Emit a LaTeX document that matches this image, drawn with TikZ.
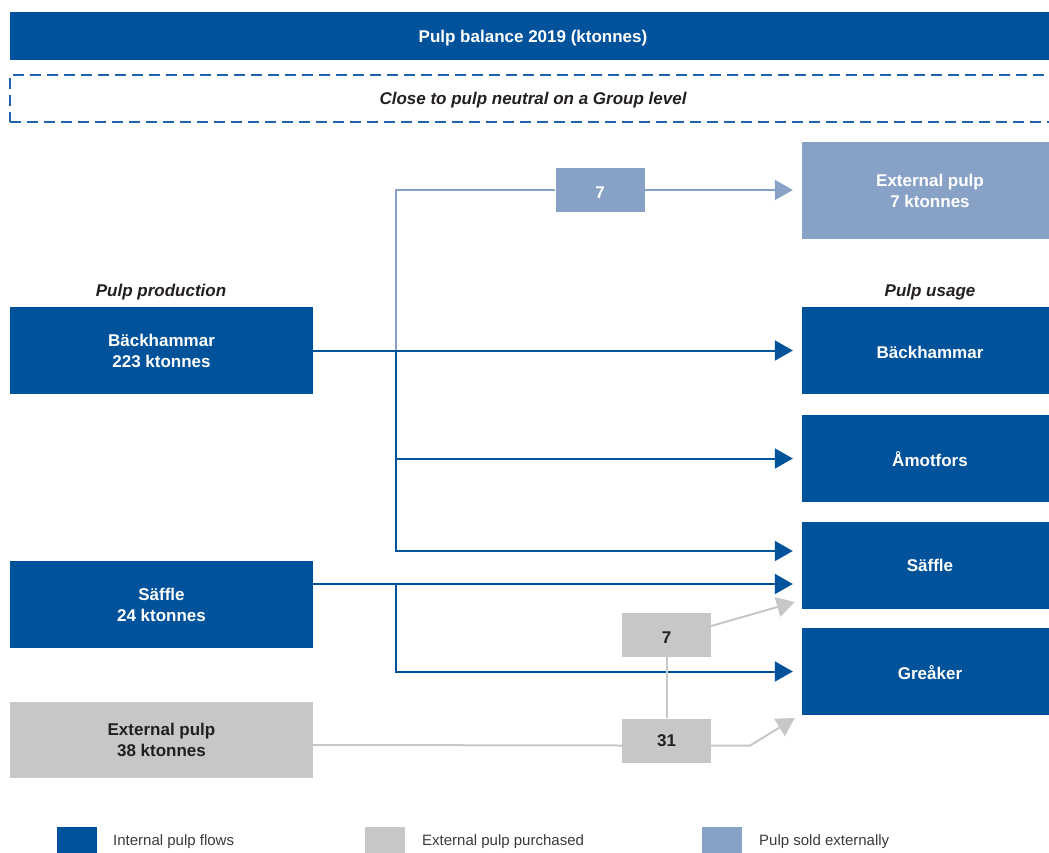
\documentclass[tikz,border=0pt]{standalone}
\usepackage{fontspec}
\setmainfont{Liberation Sans}
\usetikzlibrary{arrows.meta}
\definecolor{pblue}{HTML}{00529B}
\definecolor{plight}{HTML}{87A2C6}
\definecolor{pgray}{HTML}{C6C7C9}
\definecolor{ptext}{HTML}{231F20}
\definecolor{pdash}{HTML}{1F62AE}
\definecolor{plegend}{HTML}{3A3A3A}
\begin{document}
\begin{tikzpicture}[x=1pt,y=-1pt,
  box/.style={rectangle, inner sep=0pt, align=center, font=\fontsize{17}{21}\selectfont\bfseries},
  oneline/.style={execute at begin node={\rule{0pt}{16.5pt}}},
  bluebox/.style={box, fill=pblue, text=white},
  lightbox/.style={box, fill=plight, text=white},
  graybox/.style={box, fill=pgray, text=ptext},
  leftbox/.style={minimum width=303pt, minimum height=87pt},
  rightbox/.style={minimum width=256pt, minimum height=87pt},
  smallbox/.style={minimum width=89pt, minimum height=44pt},
  heading/.style={font=\fontsize{17}{21}\selectfont\bfseries\itshape, text=ptext, inner sep=0pt},
  flow/.style={line width=2pt},
  blueflow/.style={flow, draw=pblue},
  lightflow/.style={flow, draw=plight},
  grayflow/.style={flow, draw=pgray},
  tip/.style={-{Triangle[length=18pt,width=20pt]}},
  legsq/.style={rectangle, minimum width=40pt, minimum height=40pt, inner sep=0pt},
  legtext/.style={anchor=west, inner sep=0pt, text=plegend, font=\fontsize{15}{18}\selectfont}
]
\useasboundingbox (0,0) rectangle (1049,853);

% title and note
\node[bluebox, oneline, minimum width=1046pt, minimum height=48pt] (title) at (533,36) {Pulp balance 2019 (ktonnes)};
\node[draw=pdash, line width=1.6pt, dash pattern=on 11pt off 6pt, minimum width=1046pt, minimum height=47pt,
      font=\fontsize{17}{21}\selectfont\bfseries\itshape, text=ptext, inner sep=0pt, oneline] (note) at (533,98.5)
      {Close to pulp neutral on a Group level};

% headings
\node[heading, oneline] (hprod) at (161,290) {Pulp production};
\node[heading, oneline] (huse) at (930,290) {Pulp usage};

% left boxes
\node[bluebox, leftbox] (bL) at (161.5,350.5) {Bäckhammar\\223 ktonnes};
\node[bluebox, leftbox] (sL) at (161.5,604.5) {Säffle\\24 ktonnes};
\node[graybox, minimum width=303pt, minimum height=76pt] (eL) at (161.5,740) {External pulp\\38 ktonnes};

% right boxes
\node[lightbox, minimum width=256pt, minimum height=97pt] (eR) at (930,190.5) {External pulp\\7 ktonnes};
\node[bluebox, rightbox, oneline] (bR) at (930,350.5) {Bäckhammar};
\node[bluebox, rightbox, oneline] (aR) at (930,458.5) {Åmotfors};
\node[bluebox, rightbox] (sR) at (930,565.5) {Säffle};
\node[bluebox, rightbox, oneline] (gR) at (930,671.5) {Greåker};

% small boxes
\node[lightbox, smallbox, oneline] (l7) at (600,190) {7};
\node[graybox, smallbox, oneline] (g7) at (666.5,635) {7};
\node[graybox, smallbox] (g31) at (666.5,740.5) {31};

% junctions
\coordinate (j1) at (396,350.5);
\coordinate (j2) at (396,584);

% light blue flow (sold externally)
\draw[lightflow] (j1) -- (j1 |- l7.west) -- (l7.west);
\draw[lightflow, tip] (l7.east) -- ([xshift=-9pt]eR.west |- l7.east);

% internal flows
\draw[blueflow, tip] (bL.east) -- ([xshift=-9pt]bR.west);
\draw[blueflow, tip] (j1) |- ([xshift=-9pt]aR.west);
\draw[blueflow, tip] (j1) |- ([xshift=-9pt,yshift=14.5pt]sR.west);
\draw[blueflow, tip] ([yshift=20.5pt]sL.east) -- ([xshift=-9pt,yshift=-18.5pt]sR.west);
\draw[blueflow, tip] (j2) |- ([xshift=-9pt]gR.west);

% external purchased flows
\draw[grayflow] ([yshift=-5pt]eL.east) -- ([yshift=-5pt]g31.west);
\draw[grayflow] (g7.south) -- (g31.north);
\draw[grayflow, tip] ([yshift=-5pt]g31.east) -- ++(39,0) -- ([xshift=-7pt,yshift=-46.5pt]gR.west);
\draw[grayflow, tip] ([yshift=9pt]g7.east) -- ([xshift=-7pt,yshift=-36.5pt]sR.west);

% legend
\node[legsq, fill=pblue] (lg1) at (77,847) {};
\node[legtext] (lt1) at (113,842) {Internal pulp flows};
\node[legsq, fill=pgray] (lg2) at (385,847) {};
\node[legtext] (lt2) at (422,842) {External pulp purchased};
\node[legsq, fill=plight] (lg3) at (722,847) {};
\node[legtext] (lt3) at (759,842) {Pulp sold externally};
\end{tikzpicture}
\end{document}
